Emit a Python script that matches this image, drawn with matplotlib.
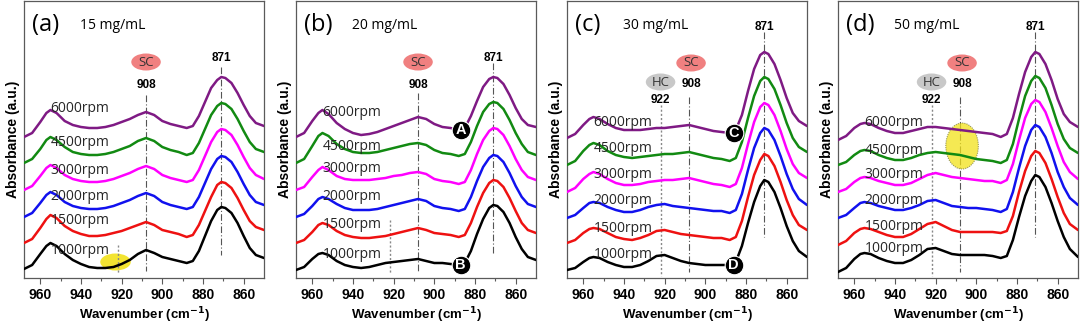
import matplotlib
matplotlib.use("Agg")
import matplotlib.pyplot as plt
from matplotlib.patches import Ellipse

# ---------------- data ----------------
wavenumber = [968, 964, 960, 957, 955, 952, 948, 944, 940, 936, 932, 928, 924, 920, 916, 912,
              908, 904, 900, 896, 892, 888, 885, 882, 879, 876, 873, 871, 869, 866, 863, 860,
              857, 854, 850]

speeds = ["1000rpm", "1500rpm", "2000rpm", "3000rpm", "4500rpm", "6000rpm"]
panel_tags = ["(a)", "(b)", "(c)", "(d)"]
concentrations = ["15 mg/mL", "20 mg/mL", "30 mg/mL", "50 mg/mL"]

# panel (a) 15 mg/mL
a_1000 = [9, 13, 24, 32, 35, 32, 24, 18, 14, 11, 10, 10, 11, 14, 18, 24, 28, 25, 21, 19, 17, 15, 17, 27, 42, 57, 68, 71, 70, 65, 55, 42, 30, 23, 20]
a_1500 = [35, 39, 50, 59, 63, 60, 52, 47, 44, 42, 42, 43, 45, 47, 50, 53, 56, 53, 48, 46, 44, 41, 43, 53, 67, 81, 93, 96, 95, 90, 80, 68, 57, 51, 48]
a_2000 = [61, 65, 75, 83, 86, 83, 76, 72, 70, 69, 69, 70, 72, 75, 78, 82, 85, 82, 76, 73, 71, 69, 71, 81, 95, 109, 119, 122, 121, 116, 106, 94, 83, 76, 73]
a_3000 = [88, 92, 102, 110, 113, 110, 103, 99, 97, 96, 96, 97, 99, 102, 105, 109, 112, 109, 103, 100, 98, 96, 98, 108, 122, 136, 146, 149, 148, 143, 133, 121, 110, 103, 99]
a_4500 = [115, 119, 129, 138, 141, 138, 131, 126, 124, 123, 123, 124, 126, 129, 132, 137, 140, 137, 131, 128, 126, 123, 125, 135, 149, 163, 172, 175, 174, 169, 159, 147, 136, 129, 126]
a_6000 = [141, 145, 156, 165, 168, 165, 157, 153, 151, 150, 150, 151, 153, 156, 159, 163, 166, 163, 157, 154, 152, 150, 152, 162, 176, 190, 198, 201, 200, 195, 185, 173, 162, 155, 152]

# panel (b) 20 mg/mL
b_1000 = [8, 11, 19, 24, 25, 23, 17, 13, 11, 10, 11, 13, 15, 16, 17, 18, 19, 17, 15, 15, 14, 13, 15, 27, 44, 59, 70, 73, 72, 66, 55, 41, 29, 21, 18]
b_1500 = [35, 38, 46, 53, 55, 53, 47, 43, 41, 40, 40, 41, 42, 44, 46, 48, 50, 48, 45, 44, 43, 41, 43, 55, 71, 85, 95, 98, 97, 91, 80, 67, 55, 48, 45]
b_2000 = [61, 64, 72, 79, 81, 79, 74, 70, 68, 68, 68, 69, 71, 73, 75, 77, 79, 77, 72, 70, 69, 67, 69, 81, 97, 111, 120, 123, 122, 116, 105, 92, 81, 74, 71]
b_3000 = [88, 91, 101, 108, 111, 108, 102, 99, 98, 98, 98, 99, 100, 102, 103, 105, 106, 104, 99, 97, 96, 94, 96, 108, 124, 138, 147, 150, 149, 143, 132, 119, 108, 101, 98]
b_4500 = [115, 119, 132, 142, 145, 142, 134, 129, 126, 125, 125, 126, 128, 130, 132, 134, 135, 133, 128, 125, 124, 122, 124, 136, 152, 166, 174, 176, 175, 169, 158, 145, 134, 126, 123]
b_6000 = [141, 145, 157, 165, 168, 164, 155, 149, 145, 143, 144, 146, 149, 152, 155, 158, 161, 159, 154, 151, 150, 148, 150, 162, 177, 191, 199, 201, 200, 194, 183, 170, 159, 153, 151]

# panel (c) 30 mg/mL
c_1000 = [8, 10, 16, 20, 21, 20, 16, 13, 11, 11, 13, 17, 22, 23, 20, 17, 15, 14, 13, 13, 13, 13, 16, 32, 55, 76, 92, 98, 96, 86, 70, 52, 37, 27, 21]
c_1500 = [35, 38, 45, 49, 50, 49, 45, 41, 39, 38, 40, 43, 47, 48, 46, 44, 43, 42, 41, 40, 40, 38, 41, 57, 81, 103, 118, 124, 122, 112, 96, 78, 63, 53, 48]
c_2000 = [60, 63, 70, 75, 76, 75, 71, 68, 66, 66, 68, 71, 73, 74, 72, 71, 70, 69, 68, 67, 67, 65, 68, 84, 108, 130, 145, 150, 148, 138, 122, 104, 89, 79, 73]
c_3000 = [86, 90, 99, 104, 106, 104, 99, 95, 93, 93, 94, 96, 97, 98, 98, 99, 100, 98, 96, 94, 93, 91, 94, 110, 134, 156, 171, 175, 173, 163, 147, 129, 114, 105, 100]
c_4500 = [113, 117, 127, 133, 135, 133, 127, 123, 121, 120, 121, 122, 123, 124, 124, 125, 126, 124, 122, 120, 119, 117, 120, 136, 160, 182, 197, 201, 199, 189, 173, 155, 140, 131, 126]
c_6000 = [140, 144, 153, 159, 161, 159, 154, 150, 148, 148, 148, 149, 150, 150, 151, 152, 153, 151, 149, 147, 146, 145, 148, 163, 187, 209, 223, 226, 224, 214, 198, 180, 165, 157, 152]

# panel (d) 50 mg/mL
d_1000 = [6, 10, 19, 24, 25, 24, 20, 17, 15, 15, 18, 23, 29, 30, 27, 24, 23, 23, 23, 23, 22, 20, 22, 38, 61, 82, 97, 103, 101, 91, 75, 57, 41, 29, 21]
d_1500 = [33, 37, 45, 49, 50, 49, 46, 43, 41, 41, 44, 49, 54, 56, 52, 48, 46, 46, 46, 46, 46, 45, 47, 62, 86, 107, 122, 127, 125, 115, 99, 81, 65, 54, 48]
d_2000 = [60, 63, 70, 75, 76, 75, 72, 70, 68, 68, 70, 73, 77, 78, 75, 72, 71, 70, 70, 69, 68, 66, 69, 86, 110, 132, 148, 153, 151, 141, 125, 106, 91, 80, 73]
d_3000 = [86, 89, 96, 100, 101, 100, 97, 95, 93, 93, 95, 99, 103, 105, 103, 101, 100, 99, 98, 97, 97, 95, 98, 114, 138, 160, 174, 178, 176, 166, 150, 132, 116, 106, 99]
d_4500 = [113, 116, 123, 127, 128, 127, 123, 120, 118, 118, 120, 123, 125, 126, 125, 124, 123, 121, 119, 118, 117, 115, 118, 134, 159, 182, 197, 202, 200, 190, 173, 154, 139, 130, 125]
d_6000 = [138, 142, 150, 154, 155, 154, 150, 147, 145, 145, 147, 149, 151, 151, 150, 149, 148, 147, 146, 145, 144, 141, 144, 160, 184, 206, 221, 226, 224, 214, 198, 179, 164, 156, 151]

panel_series = [
    [a_1000, a_1500, a_2000, a_3000, a_4500, a_6000],
    [b_1000, b_1500, b_2000, b_3000, b_4500, b_6000],
    [c_1000, c_1500, c_2000, c_3000, c_4500, c_6000],
    [d_1000, d_1500, d_2000, d_3000, d_4500, d_6000],
]

# label heights of the rpm text per panel
label_y = [
    [28, 57, 81, 107, 135, 170],
    [24, 54, 81, 110, 132, 165],
    [23, 50, 78, 104, 130, 155],
    [29, 51, 78, 103, 128, 155],
]

# ---------------- style ----------------
colors = ["#000000", "#ee1111", "#1111ee", "#ff00ff", "#128a12", "#7f1a84"]
lefts_px = [24, 296, 567, 838]
W_PX, H_PX = 1080, 325
ax_w, ax_top, ax_bot = 240, 1, 278

fig = plt.figure(figsize=(W_PX / 100, H_PX / 100), dpi=100)

TXT = "Open Sans"
BOLD = "Liberation Sans"
DASHDOT = (0, (6, 2, 1, 2))

for p in range(4):
    ax = fig.add_axes([lefts_px[p] / W_PX, (H_PX - ax_bot) / H_PX,
                       ax_w / W_PX, (ax_bot - ax_top) / H_PX])
    ax.set_xlim(968, 850)
    ax.set_ylim(0, 277)

    for s, ys in enumerate(panel_series[p]):
        ax.plot(wavenumber, ys, color=colors[s], lw=1.8, solid_joinstyle="round",
                solid_capstyle="round", zorder=3)
        ax.text(955, label_y[p][s], speeds[s], fontsize=10, family=TXT,
                color="#262626", ha="left", va="center", zorder=4)

    # reference lines
    if p < 2:
        ax.plot([908, 908], [183 if p == 0 else 185, 7], ls=DASHDOT, color="#555555", lw=0.8, zorder=2)
        ax.plot([871, 871], [211 if p == 0 else 215, 23], ls=DASHDOT, color="#555555", lw=0.8, zorder=2)
        ax.plot([922, 922], [33 if p == 0 else 58, 4], ls=(0, (1.5, 1.5)), color="#888888", lw=1.0, zorder=2)
        ax.text(871, 220, "871", fontsize=8.5, family=BOLD, fontweight="bold", ha="center", va="center")
        ax.text(908, 193, "908", fontsize=8.5, family=BOLD, fontweight="bold", ha="center", va="center")
        ax.add_patch(Ellipse((908, 216), 14.5, 17, facecolor="#f08080", edgecolor="none", zorder=2))
        ax.text(908, 216, "SC", fontsize=9.5, family=TXT, color="#333333", ha="center", va="center", zorder=3)
    else:
        ax.plot([908, 908], [181, 6], ls=DASHDOT, color="#555555", lw=0.8, zorder=2)
        ax.plot([871, 871], [246, 41], ls=DASHDOT, color="#555555", lw=0.8, zorder=2)
        ax.plot([922, 922], [173, 2], ls=(0, (1.5, 1.5)), color="#888888", lw=1.0, zorder=2)
        ax.text(871, 251, "871", fontsize=8.5, family=BOLD, fontweight="bold", ha="center", va="center")
        ax.text(907, 194, "908", fontsize=8.5, family=BOLD, fontweight="bold", ha="center", va="center")
        ax.text(922, 178, "922", fontsize=8.5, family=BOLD, fontweight="bold", ha="center", va="center")
        ax.add_patch(Ellipse((907, 215), 14.5, 17, facecolor="#f08080", edgecolor="none", zorder=2))
        ax.text(907, 215, "SC", fontsize=9.5, family=TXT, color="#333333", ha="center", va="center", zorder=3)
        ax.add_patch(Ellipse((922, 196), 14.5, 17, facecolor="#c8c8c8", edgecolor="none", zorder=2))
        ax.text(922, 196, "HC", fontsize=9.5, family=TXT, color="#333333", ha="center", va="center", zorder=3)

    # highlight ellipses
    if p == 0:
        ax.add_patch(Ellipse((923, 16), 15, 17, facecolor="#f2e21a", alpha=0.9, edgecolor="none", zorder=1))
    if p == 3:
        ax.add_patch(Ellipse((907, 132), 16, 46, facecolor="#f2e21a", alpha=0.75,
                             edgecolor="#777744", ls=(0, (1, 1)), lw=0.8, zorder=2.5))

    # letter markers
    if p == 1:
        for lab, yv in (("A", 148), ("B", 13)):
            ax.scatter([887], [yv], s=180, color="black", edgecolor="white", lw=0.8, zorder=5)
            ax.text(887, yv, lab, color="white", fontsize=10.5, family=BOLD, fontweight="bold",
                    ha="center", va="center", zorder=6)
    if p == 2:
        for lab, yv in (("C", 145), ("D", 13)):
            ax.scatter([886], [yv], s=180, color="black", edgecolor="white", lw=0.8, zorder=5)
            ax.text(886, yv, lab, color="white", fontsize=10.5, family=BOLD, fontweight="bold",
                    ha="center", va="center", zorder=6)

    ax.text(0.035, 0.915, panel_tags[p], transform=ax.transAxes, fontsize=17, family=TXT,
            ha="left", va="center")
    ax.text(0.235, 0.91, concentrations[p], transform=ax.transAxes, fontsize=10, family=TXT,
            ha="left", va="center")

    # axes cosmetics
    for sp in ax.spines.values():
        sp.set_color("#5a5a5a")
        sp.set_linewidth(0.9)
    ax.set_xticks([960, 940, 920, 900, 880, 860])
    ax.set_xticks(range(950, 850, -20), minor=True)
    ax.set_yticks([])
    ax.tick_params(axis="x", which="major", direction="out", length=4, width=0.8, color="#5a5a5a", pad=3)
    ax.tick_params(axis="x", which="minor", direction="out", length=2.5, width=0.8, color="#5a5a5a")
    for lbl in ax.get_xticklabels():
        lbl.set_fontfamily(BOLD)
        lbl.set_fontweight("bold")
        lbl.set_fontsize(10)
    ax.set_xlabel("Wavenumber (cm$^{\\mathbf{-1}}$)", fontsize=9.5, family=BOLD, fontweight="bold", labelpad=3)
    ax.set_ylabel("Absorbance (a.u.)", fontsize=10, family=BOLD, fontweight="bold", labelpad=3)

fig.savefig("out.png", dpi=100)
